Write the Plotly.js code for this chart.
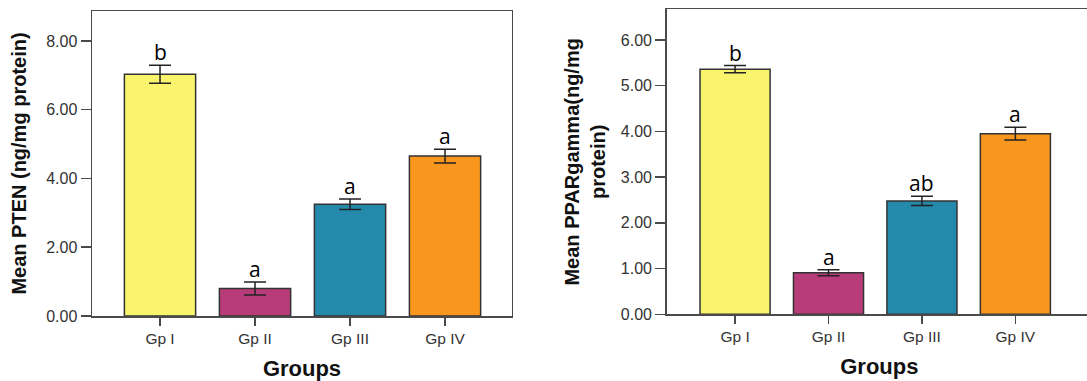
<!DOCTYPE html>
<html>
<head>
<meta charset="utf-8">
<script src="https://cdn.plot.ly/plotly-3.0.1.min.js"></script>
<style>html,body{margin:0;padding:0;overflow:hidden;background:#fff;}#chart{width:1092px;height:381px;}</style>
</head>
<body>
<div id="chart"></div>
<script>
var groups = ['Gp I', 'Gp II', 'Gp III', 'Gp IV'];
var barColors = ['#F9F46C', '#B93C7A', '#2489AB', '#F8961E'];
var ptenMean = [7.03, 0.80, 3.25, 4.65];
var ptenErr = [0.26, 0.19, 0.15, 0.20];
var ptenLetters = ['b', 'a', 'a', 'a'];
var pparMean = [5.36, 0.91, 2.48, 3.95];
var pparErr = [0.08, 0.065, 0.10, 0.14];
var pparLetters = ['b', 'a', 'ab', 'a'];

function barTrace(means, errs, xa, ya) {
  return {
    type: 'bar', x: groups, y: means, xaxis: xa, yaxis: ya, width: 0.75,
    marker: {color: barColors, line: {color: '#333', width: 1.5}},
    error_y: {type: 'data', array: errs, visible: true, color: '#222', thickness: 1.5, width: 11},
    showlegend: false, hoverinfo: 'skip'
  };
}

var data = [barTrace(ptenMean, ptenErr, 'x', 'y'), barTrace(pparMean, pparErr, 'x2', 'y2')];

var annotations = [];
function addLetters(letters, means, errs, xr, yr) {
  for (var i = 0; i < groups.length; i++) {
    annotations.push({
      xref: xr, yref: yr, x: groups[i], y: means[i] + errs[i], text: letters[i],
      showarrow: false, yanchor: 'bottom', yshift: -3,
      font: {family: 'Open Sans, Arial, sans-serif', size: 21, color: '#000'}
    });
  }
}
addLetters(ptenLetters, ptenMean, ptenErr, 'x', 'y');
addLetters(pparLetters, pparMean, pparErr, 'x2', 'y2');

var tickFont = {family: 'Arial, Liberation Sans, sans-serif', size: 16, color: '#333'};
var xTickFont = {family: 'Arial, Liberation Sans, sans-serif', size: 15.5, color: '#333'};
var titleFont = {family: 'Arial, Liberation Sans, sans-serif', size: 20, color: '#111', weight: 'bold'};
var xTitleFont = {family: 'Arial, Liberation Sans, sans-serif', size: 22, color: '#111', weight: 'bold'};

function xAxis(domain, range, anchor) {
  return {
    domain: domain, anchor: anchor, range: range, type: 'category',
    showline: true, linecolor: '#4a4a4a', linewidth: 1.5, mirror: true,
    ticks: 'outside', ticklen: 8, tickwidth: 1.5, tickcolor: '#4a4a4a',
    tickfont: xTickFont, showgrid: false, zeroline: false, fixedrange: true,
    title: {text: 'Groups', font: xTitleFont, standoff: 14}
  };
}
function yAxis(domain, range, dtick, anchor, titleText, standoff) {
  return {
    domain: domain, anchor: anchor, range: range, dtick: dtick, tick0: 0, tickformat: '.2f',
    showline: true, linecolor: '#4a4a4a', linewidth: 1.5, mirror: true,
    ticks: 'outside', ticklen: 10, tickwidth: 1.5, tickcolor: '#4a4a4a',
    tickfont: tickFont, showgrid: false, zeroline: false, fixedrange: true,
    title: {text: titleText, font: titleFont, standoff: standoff}
  };
}

var layout = {
  width: 1092, height: 381,
  margin: {l: 0, r: 0, t: 0, b: 0},
  paper_bgcolor: '#fff', plot_bgcolor: '#fff',
  xaxis: xAxis([0.08425, 0.46886], [-0.716, 3.705], 'y'),
  yaxis: yAxis([0.1706, 0.9711], [0, 8.87], 2, 'x', 'Mean PTEN (ng/mg protein)', 14),
  xaxis2: xAxis([0.6105, 1.0], [-0.732, 3.82], 'y2'),
  yaxis2: yAxis([0.175, 0.9756], [0, 6.67], 1, 'x2', 'Mean PPARgamma(ng/mg<br>protein)', 10),
  annotations: annotations,
  bargap: 0.25
};

Plotly.newPlot('chart', data, layout, {displayModeBar: false, staticPlot: true});
</script>
</body>
</html>
